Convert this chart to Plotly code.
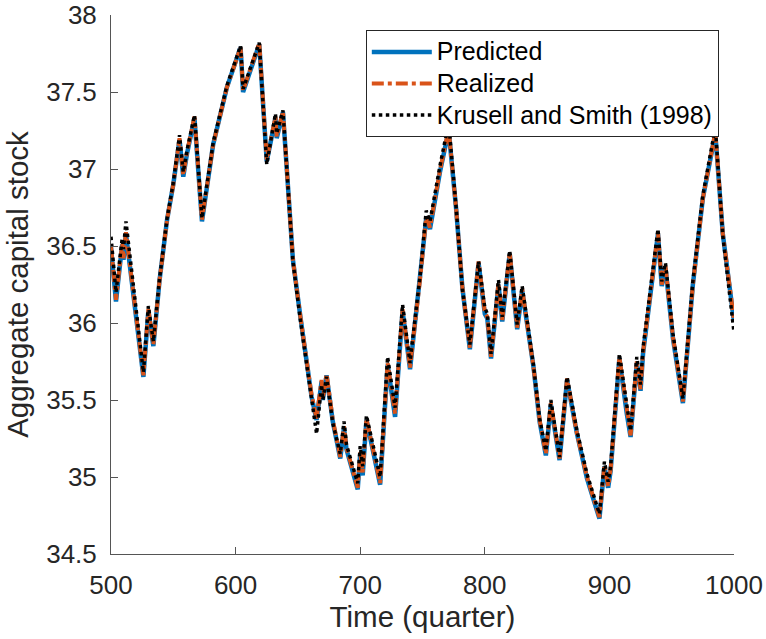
import plotly.graph_objects as go

# Time (quarter) knots
time_q = [500, 504, 509, 510, 512, 526, 530, 534, 539, 545, 550, 555, 558, 561, 567, 573,
          582, 593, 604, 606, 619, 625, 632, 633, 638, 641, 646, 652, 657, 661, 665, 669,
          670, 673, 678, 684, 687, 689, 698, 700, 702, 705, 710, 716, 722, 728, 734, 740,
          742, 748, 753, 756, 764, 771, 777, 782, 788, 795, 800, 802, 805, 811, 814, 820,
          826, 830, 839, 844, 849, 853, 860, 866, 874, 882, 892, 896, 899, 901, 908, 914,
          917, 922, 925, 927, 939, 942, 945, 951, 959, 967, 975, 985, 991, 1000]

realized = [36.50, 36.15, 36.52, 36.42, 36.59, 35.66, 36.09, 35.86, 36.28, 36.67, 36.90, 37.20,
            36.96, 37.11, 37.34, 36.67, 37.16, 37.53, 37.79, 37.51, 37.82, 37.06, 37.34, 37.21,
            37.375, 36.99, 36.41, 36.04, 35.77, 35.53, 35.38, 35.63, 35.51, 35.67, 35.37, 35.13,
            35.33, 35.19, 34.93, 35.16, 35.03, 35.38, 35.19, 34.96, 35.74, 35.41, 36.09, 35.71,
            35.86, 36.28, 36.69, 36.62, 36.99, 37.26, 36.74, 36.23, 35.84, 36.40, 36.07, 36.04,
            35.78, 36.26, 36.02, 36.46, 35.97, 36.22, 35.72, 35.37, 35.15, 35.48, 35.12, 35.64,
            35.28, 35.00, 34.74, 35.08, 34.94, 35.05, 35.78, 35.42, 35.27, 35.75, 35.57, 35.81,
            36.59, 36.25, 36.37, 35.91, 35.49, 36.25, 36.81, 37.24, 36.58, 36.02]

predicted = [36.49, 36.14, 36.51, 36.41, 36.58, 35.65, 36.08, 35.85, 36.28, 36.67, 36.90, 37.19,
             36.95, 37.10, 37.33, 36.66, 37.16, 37.53, 37.79, 37.50, 37.81, 37.05, 37.33, 37.20,
             37.37, 36.99, 36.41, 36.04, 35.77, 35.52, 35.37, 35.62, 35.50, 35.66, 35.36, 35.12,
             35.32, 35.18, 34.92, 35.15, 35.01, 35.37, 35.18, 34.95, 35.73, 35.39, 36.08, 35.70,
             35.85, 36.28, 36.68, 36.61, 36.98, 37.25, 36.74, 36.23, 35.83, 36.39, 36.06, 36.03,
             35.77, 36.25, 36.01, 36.45, 35.96, 36.21, 35.72, 35.36, 35.14, 35.47, 35.11, 35.63,
             35.28, 34.99, 34.73, 35.07, 34.93, 35.04, 35.77, 35.41, 35.26, 35.74, 35.56, 35.80,
             36.58, 36.24, 36.36, 35.90, 35.48, 36.25, 36.81, 37.23, 36.58, 36.01]

krusell_smith = [36.56, 36.20, 36.55, 36.48, 36.66, 35.68, 36.11, 35.88, 36.29, 36.68, 36.91, 37.22,
                 36.98, 37.12, 37.35, 36.68, 37.17, 37.54, 37.80, 37.52, 37.82, 37.03, 37.36, 37.23,
                 37.38, 36.98, 36.40, 36.02, 35.74, 35.50, 35.28, 35.60, 35.50, 35.65, 35.35, 35.15,
                 35.36, 35.21, 34.96, 35.20, 35.07, 35.40, 35.22, 35.00, 35.78, 35.45, 36.12, 35.74,
                 35.89, 36.30, 36.73, 36.66, 37.02, 37.30, 36.75, 36.22, 35.86, 36.40, 36.10, 36.06,
                 35.80, 36.28, 36.04, 36.47, 35.99, 36.24, 35.73, 35.38, 35.17, 35.50, 35.13, 35.65,
                 35.30, 35.02, 34.76, 35.10, 34.97, 35.07, 35.80, 35.44, 35.30, 35.78, 35.60, 35.84,
                 36.61, 36.27, 36.39, 35.93, 35.51, 36.27, 36.83, 37.27, 36.57, 35.94]

series_names = ["Predicted", "Realized", "Krusell and Smith (1998)"]

x_ticks = [500, 600, 700, 800, 900, 1000]
y_ticks = [34.5, 35, 35.5, 36, 36.5, 37, 37.5, 38]
y_tick_text = ["34.5", "35", "35.5", "36", "36.5", "37", "37.5", "38"]

FONT = "Liberation Sans, Arial, Helvetica, sans-serif"
AX = "#262626"


def legend_label(s):
    return '<span style="font-size:25px">' + s + "</span>"


fig = go.Figure()
fig.add_trace(go.Scatter(x=time_q, y=predicted, mode="lines", name=legend_label(series_names[0]),
                         line=dict(color="#0072BD", width=4.5)))
fig.add_trace(go.Scatter(x=time_q, y=realized, mode="lines", name=legend_label(series_names[1]),
                         line=dict(color="#D95319", width=4, dash="dashdot")))
fig.add_trace(go.Scatter(x=time_q, y=krusell_smith, mode="lines", name=legend_label(series_names[2]),
                         line=dict(color="#000000", width=3.5, dash="dot")))

fig.update_layout(
    width=766, height=639,
    margin=dict(l=111, r=32, t=15, b=85, autoexpand=False),
    paper_bgcolor="white", plot_bgcolor="white",
    font=dict(family=FONT, color=AX, size=26),
    showlegend=True,
    legend=dict(x=0.409, y=0.972, xanchor="left", yanchor="top",
                bgcolor="white", bordercolor=AX, borderwidth=1,
                font=dict(family=FONT, size=22, color="#000000"),
                itemwidth=60, tracegroupgap=0),
)
fig.update_xaxes(
    range=[500, 1000], tickvals=x_ticks, ticktext=[str(v) for v in x_ticks],
    ticks="inside", ticklen=7, tickcolor="#555555", tickwidth=1,
    showline=True, linecolor="#555555", linewidth=1, mirror=False,
    showgrid=False, zeroline=False, automargin=False,
    tickfont=dict(family=FONT, size=26, color=AX), ticklabelstandoff=8,
    title=dict(text="Time (quarter)", font=dict(family=FONT, size=29.5, color=AX), standoff=6),
)
fig.update_yaxes(
    range=[34.5, 38], tickvals=y_ticks, ticktext=y_tick_text,
    ticks="inside", ticklen=7, tickcolor="#555555", tickwidth=1,
    showline=True, linecolor="#555555", linewidth=1, mirror=False,
    showgrid=False, zeroline=False, automargin=False,
    tickfont=dict(family=FONT, size=26, color=AX), ticklabelstandoff=8,
    title=dict(text="Aggregate capital stock", font=dict(family=FONT, size=29.5, color=AX), standoff=8),
)

fig.write_html("out.html")
